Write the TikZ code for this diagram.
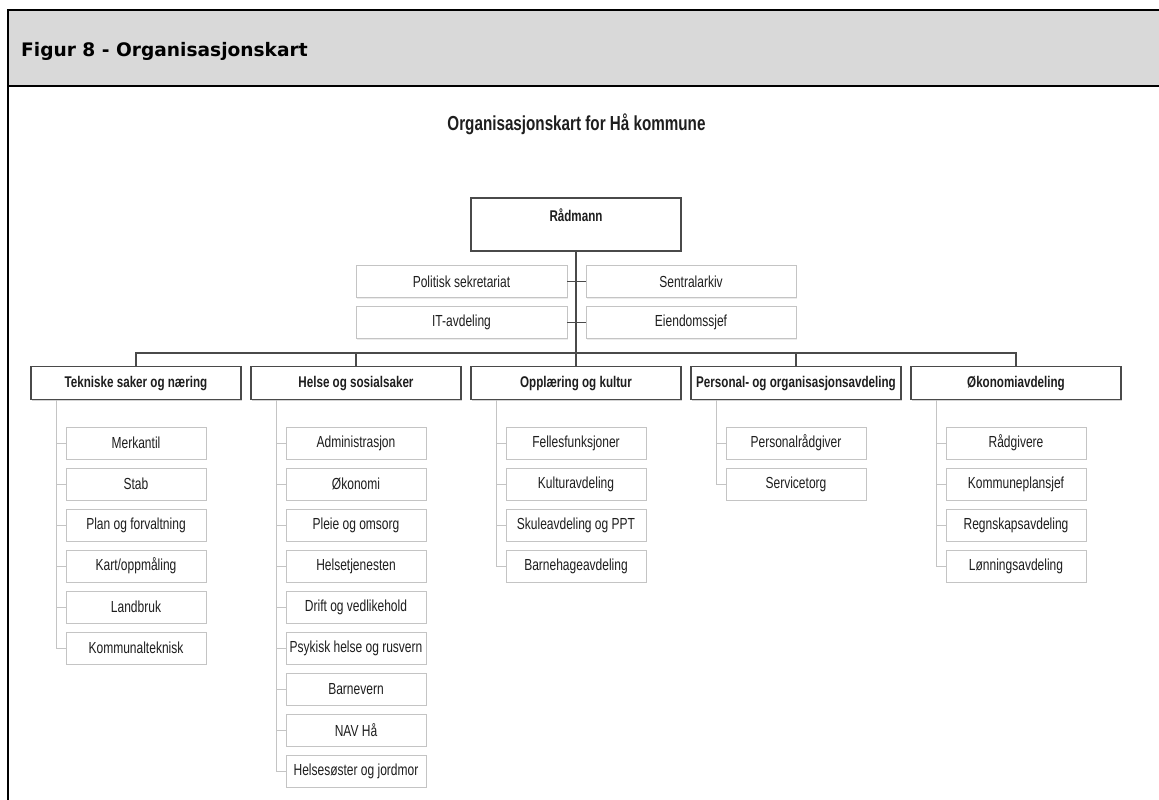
\documentclass[tikz,border=0pt]{standalone}
\usepackage{fontspec}
\setmainfont{Liberation Sans}[FakeStretch=0.75]
\newfontfamily\hdrfont{DejaVu Sans}
\usetikzlibrary{shadows}
\definecolor{hdrgray}{HTML}{D9D9D9}
\definecolor{txt}{HTML}{1E1E1E}
\definecolor{darkline}{HTML}{4A4A4A}
\definecolor{lightline}{HTML}{C4C4C4}
\tikzset{
  deptbox/.style={draw=darkline, line width=1.3bp, fill=white, minimum width=210bp, minimum height=33bp, inner sep=0pt,
    text=txt, font=\fontsize{15.5bp}{18bp}\selectfont\bfseries,
    drop shadow={shadow xshift=1.2bp, shadow yshift=-1.2bp, opacity=0.35, fill=gray}},
  subbox/.style={draw=lightline, line width=0.9bp, fill=white, minimum width=140bp, minimum height=32bp, inner sep=0pt,
    text=txt, font=\fontsize{16bp}{18bp}\selectfont,
    drop shadow={shadow xshift=1bp, shadow yshift=-1bp, opacity=0.15, fill=gray}},
  topsub/.style={subbox, minimum width=211bp},
  radbox/.style={draw=darkline, line width=1.3bp, fill=white, minimum width=210bp, minimum height=53bp, inner sep=0pt,
    drop shadow={shadow xshift=1.2bp, shadow yshift=-1.2bp, opacity=0.3, fill=gray}},
  boldlbl/.style={text=txt, font=\fontsize{15.5bp}{18bp}\selectfont\bfseries, inner sep=0pt},
  mainline/.style={draw=darkline, line width=1.1bp},
  subline/.style={draw=lightline, line width=0.9bp},
}
\begin{document}
\begin{tikzpicture}[x=1bp,y=-1bp]
\useasboundingbox (0,0) rectangle (1159,800);
% frame
\fill[hdrgray] (8,10) rectangle (1159,86);
\draw[black, line width=2.3bp] (1159,10) -- (8,10) -- (8,800);
\draw[black, line width=2.3bp] (8,86) -- (1159,86);
\node[anchor=base west, inner sep=0pt, font=\hdrfont\bfseries\fontsize{18.6bp}{22bp}\selectfont, text=black] (hdr) at (21,56.5) {Figur 8 - Organisasjonskart};
% title
\node[anchor=base, inner sep=0pt, font=\fontsize{20.3bp}{23bp}\selectfont\bfseries, text=txt] (title) at (576.5,130.5) {Organisasjonskart for Hå kommune};
% top
\node[radbox] (rad) at (576,224.5) {};
\node[boldlbl] (radlbl) at (576,215) {Rådmann};
\node[topsub] (pol) at (461.5,281.7) {Politisk sekretariat};
\node[topsub, minimum width=210bp] (sen) at (691,281.7) {Sentralarkiv};
\node[topsub] (it) at (461.5,322.5) {IT-avdeling};
\node[topsub, minimum width=210bp] (eie) at (691,322.5) {Eiendomssjef};
% departments
\node[deptbox] (d1) at (136,383.3) {Tekniske saker og næring};
\node[deptbox] (d2) at (356,383.3) {Helse og sosialsaker};
\node[deptbox] (d3) at (576,383.3) {Opplæring og kultur};
\node[deptbox] (d4) at (796,383.3) {Personal- og organisasjonsavdeling};
\node[deptbox] (d5) at (1016,383.3) {Økonomiavdeling};
\coordinate (bus) at (576,353);
% main connectors
\draw[mainline] (rad.south) -- (d3.north);
\draw[mainline] (pol.east) -- (sen.west);
\draw[mainline] (it.east) -- (eie.west);
\draw[mainline] (d1.north) |- (bus) -| (d5.north);
\draw[mainline] (d2.north) -- (d2.north |- bus);
\draw[mainline] (d4.north) -- (d4.north |- bus);
% sub units
\foreach \dep/\list in {
  d1/{Merkantil,Stab,Plan og forvaltning,Kart/oppmåling,Landbruk,Kommunalteknisk},
  d2/{Administrasjon,Økonomi,Pleie og omsorg,Helsetjenesten,Drift og vedlikehold,Psykisk helse og rusvern,Barnevern,NAV Hå,Helsesøster og jordmor},
  d3/{Fellesfunksjoner,Kulturavdeling,Skuleavdeling og PPT,Barnehageavdeling},
  d4/{Personalrådgiver,Servicetorg},
  d5/{Rådgivere,Kommuneplansjef,Regnskapsavdeling,Lønningsavdeling}} {
  \foreach \name [count=\i] in \list {
    \path (\dep.center) ++(0,{443-383.3+41*(\i-1)}) node[subbox] (\dep-s\i) {\name};
    \draw[subline] ([xshift=-79.5bp]\dep.south) |- (\dep-s\i.west);
  }
}
\end{tikzpicture}
\end{document}
